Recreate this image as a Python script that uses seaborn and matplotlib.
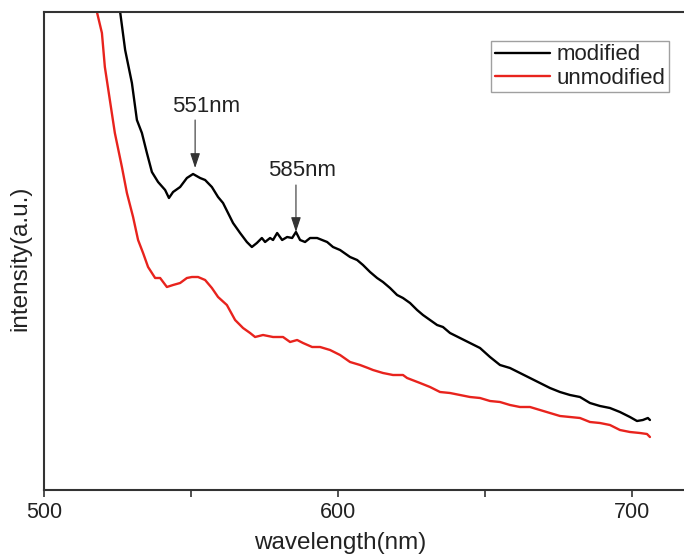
import matplotlib
matplotlib.use("Agg")
import matplotlib.pyplot as plt
import seaborn as sns

# modified sample
mod_wl = [523.0, 525.9, 527.6, 529.9, 531.6, 533.3, 535.0, 536.7, 538.8, 541.2, 542.5,
          543.9, 546.3, 548.6, 550.7, 553.1, 554.8, 557.1, 559.2, 560.9, 562.6, 564.3,
          566.7, 569.0, 570.7, 572.4, 574.1, 575.2, 576.9, 577.9, 579.3, 581.0, 582.7,
          584.4, 585.7, 587.1, 588.8, 590.5, 592.9, 594.6, 596.3, 598.3, 600.7, 604.1,
          606.5, 608.5, 610.9, 613.3, 615.3, 617.7, 620.1, 622.1, 624.5, 626.9, 628.9,
          631.3, 633.7, 635.7, 638.1, 641.5, 644.9, 648.3, 651.7, 655.1, 658.5, 661.9,
          665.3, 668.7, 672.1, 675.5, 678.9, 682.3, 685.7, 689.1, 692.5, 695.9, 699.3,
          701.7, 703.7, 705.4, 706.1]
mod_int = [540, 478, 440, 407, 370, 357, 337, 318, 308, 300, 292,
           298, 303, 312, 316, 312, 310, 303, 293, 287, 277, 267,
           257, 248, 243, 247, 252, 248, 252, 250, 257, 250, 253,
           252, 258, 250, 248, 252, 252, 250, 248, 243, 240, 233,
           230, 225, 218, 212, 208, 202, 195, 192, 187, 180, 175,
           170, 165, 163, 157, 152, 147, 142, 133, 125, 122, 117,
           112, 107, 102, 98, 95, 93, 87, 84, 82, 78, 73,
           69, 70, 72, 70]

# unmodified sample
unm_wl = [516.0, 518.0, 519.7, 520.7, 522.4, 524.1, 526.5, 528.2, 530.3, 532.0, 533.7,
          535.4, 537.8, 539.5, 541.8, 543.9, 546.3, 548.6, 550.3, 552.4, 554.8, 557.1,
          559.2, 562.2, 565.0, 567.7, 570.1, 571.8, 574.5, 577.9, 581.3, 583.7, 586.1,
          588.1, 591.2, 593.9, 597.3, 600.7, 604.1, 607.5, 610.2, 611.9, 615.3, 618.7,
          622.1, 623.5, 627.9, 631.3, 634.7, 638.1, 641.5, 644.9, 648.3, 651.7, 655.1,
          658.5, 661.9, 665.3, 668.7, 672.1, 675.5, 678.9, 682.3, 685.7, 689.1, 692.5,
          695.9, 699.3, 702.7, 705.1, 706.1]
unm_int = [540, 478, 457, 423, 390, 357, 323, 297, 273, 250, 237,
           223, 212, 212, 203, 205, 207, 212, 213, 213, 210, 202,
           193, 185, 170, 162, 157, 153, 155, 153, 153, 148, 150,
           147, 143, 143, 140, 135, 128, 125, 122, 120, 117, 115,
           115, 112, 107, 103, 98, 97, 95, 93, 92, 89, 88,
           85, 83, 83, 80, 77, 74, 73, 72, 68, 67, 65,
           60, 58, 57, 56, 53]

# peak labels: (text, peak wavelength, arrow top, arrow tip, text x, text y)
peaks = [("551nm", 551.4, 370, 322, 555.0, 384),
         ("585nm", 585.7, 305, 258, 587.8, 320)]

sns.set_style("white")
plt.rcParams['font.family'] = ['Liberation Sans', 'DejaVu Sans']

fig = plt.figure(figsize=(6.84, 5.59), dpi=100)
ax = fig.add_axes([44 / 684, 69 / 559, 646.8 / 684, 478 / 559])

sns.lineplot(x=mod_wl, y=mod_int, ax=ax, color='black', lw=1.7, label='modified')
sns.lineplot(x=unm_wl, y=unm_int, ax=ax, color='#e8231d', lw=1.7, label='unmodified')

ax.set_xlim(500, 720)
ax.set_ylim(0, 478)
ax.set_xticks([500, 600, 700])
ax.set_xticks([550, 650], minor=True)
ax.set_yticks([])
ax.tick_params(axis='x', which='both', direction='out', length=5, width=1.2,
               color='#333333', labelsize=15.5, pad=4, bottom=True,
               labelcolor='#222222')
for s in ax.spines.values():
    s.set_color('#333333')
    s.set_linewidth(1.5)

ax.set_xlabel('wavelength(nm)', fontsize=17.5, color='#222222')
ax.set_ylabel('intensity(a.u.)', fontsize=17.5, color='#222222')
ax.xaxis.set_label_coords(296 / 646.8, -0.088)
ax.yaxis.set_label_coords(-0.019, 0.485)

for label, wl, top, tip, tx, ty in peaks:
    ax.annotate('', xy=(wl, tip), xytext=(wl, top),
                arrowprops=dict(arrowstyle='-|>,head_length=0.9,head_width=0.3',
                                color='#333333', lw=0.8, shrinkA=0, shrinkB=0,
                                mutation_scale=10))
    ax.text(tx, ty, label, ha='center', va='center', fontsize=16, color='#222222')

leg = ax.legend(loc='upper right', bbox_to_anchor=(669 / 684, 1 - 41 / 559),
                bbox_transform=fig.transFigure, borderaxespad=0, fontsize=16,
                frameon=True, fancybox=False, handlelength=2.5, handletextpad=0.3,
                labelspacing=0.1, borderpad=0.15)
leg.get_frame().set_edgecolor('#888888')
leg.get_frame().set_linewidth(1.0)
for t in leg.get_texts():
    t.set_color('#222222')

fig.savefig('out.png', dpi=100)
